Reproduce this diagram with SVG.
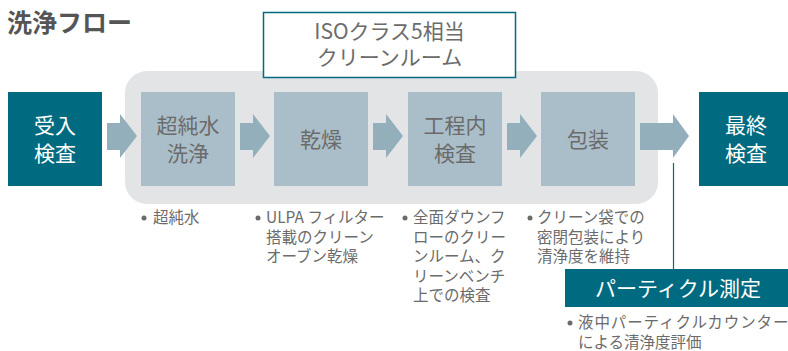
<svg xmlns="http://www.w3.org/2000/svg" width="788" height="351" viewBox="0 0 788 351">
<style>
text{font-family:"Noto Sans CJK JP","Noto Sans",sans-serif;}
.title{font-size:25px;font-weight:bold;fill:#555;}
.dark{fill:#006b80;}
.light{fill:#aabec9;}
.arr{fill:#93afbc;}
.wt{font-size:21px;fill:#fff;text-anchor:middle;}
.gt{font-size:21px;fill:#6b6b6b;text-anchor:middle;}
.note{font-size:15.5px;fill:#6b6b6b;}
.bul{fill:#6b6b6b;}
</style>
<text class="title" x="7" y="32">洗浄フロー</text>
<rect x="125" y="71" width="533" height="133" rx="22" fill="#e3e4e6"/>
<g id="iso">
<rect x="263.5" y="12.5" width="252" height="65" fill="#fff" stroke="#006b80" stroke-width="1.5"/>
<text class="gt" x="389.5" y="39" font-size="20">ISOクラス5相当</text>
<text class="gt" x="389.5" y="65" font-size="20">クリーンルーム</text>
</g>
<g id="connectors">
<polygon class="arr" points="107,123 120,123 120,114 137,136 120,158 120,150 107,150"/>
<polygon class="arr" points="240,123 253,123 253,114 270,136 253,158 253,150 240,150"/>
<polygon class="arr" points="373,123 386,123 386,114 403,136 386,158 386,150 373,150"/>
<polygon class="arr" points="507,123 520,123 520,114 537,136 520,158 520,150 507,150"/>
<polygon class="arr" points="640,123 673,123 673,114 689,136 673,158 673,150 640,150"/>
<line x1="673.5" y1="163" x2="673.5" y2="270" stroke="#006b80" stroke-width="1.2"/>
</g>
<g id="n1"><rect class="dark" x="8" y="92" width="94" height="94"/><text class="wt" x="55" y="133">受入</text><text class="wt" x="55" y="161">検査</text></g>
<g id="n2"><rect class="light" x="141" y="92" width="94" height="94"/><text class="gt" x="188" y="133">超純水</text><text class="gt" x="188" y="161">洗浄</text></g>
<g id="n3"><rect class="light" x="274" y="92" width="94" height="94"/><text class="gt" x="321" y="147">乾燥</text></g>
<g id="n4"><rect class="light" x="408" y="92" width="94" height="94"/><text class="gt" x="455" y="133">工程内</text><text class="gt" x="455" y="161">検査</text></g>
<g id="n5"><rect class="light" x="541" y="92" width="94" height="94"/><text class="gt" x="588" y="147">包装</text></g>
<g id="n6"><rect class="dark" x="699" y="92" width="94" height="94"/><text class="wt" x="746" y="133">最終</text><text class="wt" x="746" y="161">検査</text></g>
<g id="n7"><rect class="dark" x="565" y="269" width="226" height="38"/><text class="wt" x="678" y="296" font-size="22.5">パーティクル測定</text></g>
<g id="notes">
<circle class="bul" cx="144" cy="218" r="2.5"/>
<text class="note" x="153" y="223">超純水</text>
<circle class="bul" cx="258" cy="218" r="2.5"/>
<text class="note" x="266" y="223">ULPA フィルター</text>
<text class="note" x="266" y="242.5">搭載のクリーン</text>
<text class="note" x="266" y="262">オーブン乾燥</text>
<circle class="bul" cx="405" cy="218" r="2.5"/>
<text class="note" x="413" y="223">全面ダウンフ</text>
<text class="note" x="413" y="242.5">ローのクリー</text>
<text class="note" x="413" y="262">ンルーム、ク</text>
<text class="note" x="413" y="281.5">リーンベンチ</text>
<text class="note" x="413" y="301">上での検査</text>
<circle class="bul" cx="530" cy="218" r="2.5"/>
<text class="note" x="537" y="223">クリーン袋での</text>
<text class="note" x="537" y="242.5">密閉包装により</text>
<text class="note" x="537" y="262">清浄度を維持</text>
<circle class="bul" cx="570" cy="323" r="2.5"/>
<text class="note" x="578" y="328" letter-spacing="0.9">液中パーティクルカウンター</text>
<text class="note" x="578" y="347.5">による清浄度評価</text>
</g>
</svg>
